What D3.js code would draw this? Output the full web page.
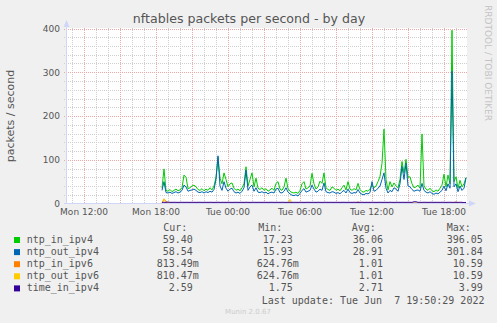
<!DOCTYPE html>
<html>
<head>
<meta charset="utf-8">
<script src="https://cdn.jsdelivr.net/npm/d3@7/dist/d3.min.js"></script>
<style>
  body { margin: 0; background: #f0f0f0; }
  svg text { white-space: pre; }
</style>
</head>
<body>
<div id="chart"></div>
<script>
// series names and colours (munin palette)
var seriesNames = ["ntp_in_ipv4", "ntp_out_ipv4", "ntp_in_ipv6", "ntp_out_ipv6", "time_in_ipv4"];
var seriesColors = ["#00cc00", "#0066b3", "#ff8000", "#ffcc00", "#330099"];

// legend numbers
var curVals = ["59.40", "58.54", "813.49m", "810.47m", "2.59"];
var minVals = ["17.23", "15.93", "624.76m", "624.76m", "1.75"];
var avgVals = ["36.06", "28.91", "1.01", "1.01", "2.71"];
var maxVals = ["396.05", "301.84", "10.59", "10.59", "3.99"];

var xTickLabels = ["Mon 12:00", "Mon 18:00", "Tue 00:00", "Tue 06:00", "Tue 12:00", "Tue 18:00"];
var yTicks = [0, 100, 200, 300, 400];

// samples every 10 minutes from Mon 18:30
var ntpInV4 = [35, 79, 30, 28, 32, 27, 30, 33, 29, 31, 36, 65, 60, 34, 36, 40, 42, 38, 32, 30,
  34, 29, 33, 30, 36, 31, 40, 60, 105, 58, 45, 70, 55, 38, 45, 47, 35, 30, 33, 29,
  36, 45, 84, 40, 55, 70, 38, 58, 35, 32, 36, 30, 34, 28, 31, 35, 30, 46, 50, 33,
  30, 38, 58, 34, 28, 25, 24, 26, 23, 30, 45, 50, 33, 36, 40, 69, 45, 33, 38, 51,
  46, 70, 36, 32, 30, 38, 35, 30, 33, 29, 36, 42, 31, 50, 33, 30, 34, 31, 46, 32,
  27, 26, 30, 28, 33, 42, 36, 40, 50, 62, 92, 170, 55, 31, 50, 38, 47, 40, 36, 55,
  96, 70, 101, 60, 61, 45, 36, 38, 42, 35, 159, 40, 33, 30, 35, 29, 27, 31, 28, 35,
  42, 67, 38, 65, 45, 396, 50, 61, 35, 53, 38, 45, 59.4];
var ntpOutV4 = [30, 50, 25, 24, 26, 23, 25, 27, 24, 26, 30, 42, 38, 28, 30, 31, 33, 30, 26, 25,
  27, 24, 27, 25, 28, 26, 32, 55, 109, 40, 30, 50, 35, 28, 33, 35, 27, 24, 26, 23,
  28, 36, 76, 30, 38, 42, 28, 36, 26, 25, 27, 24, 26, 22, 25, 26, 24, 33, 35, 25,
  24, 28, 36, 26, 22, 19, 18, 20, 17, 23, 30, 34, 26, 28, 30, 42, 33, 26, 28, 33,
  30, 47, 27, 25, 24, 27, 26, 23, 25, 22, 27, 30, 24, 33, 25, 23, 25, 24, 32, 24,
  21, 20, 23, 22, 25, 50, 28, 30, 35, 40, 55, 70, 35, 24, 30, 27, 36, 33, 28, 45,
  85, 55, 92, 40, 38, 32, 28, 30, 31, 28, 46, 30, 26, 24, 27, 23, 21, 24, 22, 26,
  30, 40, 29, 45, 35, 302, 38, 45, 27, 40, 30, 35, 58.54];
var ntpInV6 = [0.9, 10.59, 5, 2, 0.8, 0.8, 0.9, 0.8, 0.8, 0.9, 0.8, 0.8, 0.9, 0.8, 0.8, 0.9, 0.8, 0.8, 0.9, 0.8,
  0.8, 0.9, 0.8, 0.8, 0.9, 0.8, 0.8, 0.9, 0.8, 0.8, 0.9, 0.8, 0.8, 0.9, 0.8, 0.8, 0.9, 0.8, 0.8, 0.9,
  0.8, 0.8, 0.9, 0.8, 0.8, 0.9, 0.8, 0.8, 0.9, 0.8, 0.8, 0.9, 0.8, 0.8, 0.9, 0.8, 0.8, 0.9, 0.8, 0.8,
  0.9, 0.8, 0.8, 0.9, 2, 0.9, 0.8, 0.8, 0.9, 0.8, 0.8, 0.9, 0.8, 0.8, 0.9, 0.8, 0.8, 0.9, 0.8, 0.8,
  0.9, 0.8, 0.8, 0.9, 0.8, 0.8, 0.9, 0.8, 0.8, 0.9, 0.8, 0.8, 0.9, 0.8, 0.8, 0.9, 0.8, 0.8, 4, 0.9,
  0.8, 0.8, 0.9, 0.8, 0.8, 0.9, 0.8, 0.8, 0.9, 0.8, 0.8, 0.9, 0.8, 0.8, 0.9, 0.8, 0.8, 0.9, 0.8, 0.8,
  0.9, 0.8, 0.8, 0.9, 0.8, 0.8, 0.9, 0.8, 0.8, 0.9, 0.8, 0.8, 0.9, 0.8, 0.8, 0.9, 0.8, 0.8, 0.9, 0.8,
  0.8, 0.9, 0.8, 0.8, 0.9, 0.8, 0.8, 4, 0.9, 0.8, 0.8, 0.9, 0.81];
var ntpOutV6 = [0.9, 10.59, 3, 1.5, 0.8, 0.8, 0.9, 0.8, 0.8, 0.9, 0.8, 0.8, 0.9, 0.8, 0.8, 0.9, 0.8, 0.8, 0.9, 0.8,
  0.8, 0.9, 0.8, 0.8, 0.9, 0.8, 0.8, 0.9, 0.8, 0.8, 0.9, 0.8, 0.8, 0.9, 0.8, 0.8, 0.9, 0.8, 0.8, 0.9,
  0.8, 0.8, 0.9, 0.8, 0.8, 0.9, 0.8, 0.8, 0.9, 0.8, 0.8, 0.9, 0.8, 0.8, 0.9, 0.8, 0.8, 0.9, 0.8, 0.8,
  0.9, 0.8, 0.8, 0.9, 9.5, 0.9, 0.8, 0.8, 0.9, 0.8, 0.8, 0.9, 0.8, 0.8, 0.9, 0.8, 0.8, 0.9, 0.8, 0.8,
  0.9, 0.8, 0.8, 0.9, 0.8, 0.8, 0.9, 0.8, 0.8, 0.9, 0.8, 0.8, 0.9, 0.8, 0.8, 0.9, 0.8, 0.8, 2, 0.9,
  0.8, 0.8, 0.9, 0.8, 0.8, 0.9, 0.8, 0.8, 0.9, 0.8, 0.8, 0.9, 0.8, 0.8, 0.9, 0.8, 0.8, 0.9, 0.8, 0.8,
  0.9, 0.8, 0.8, 0.9, 0.8, 0.8, 0.9, 0.8, 0.8, 0.9, 0.8, 0.8, 0.9, 0.8, 0.8, 0.9, 0.8, 0.8, 0.9, 0.8,
  0.8, 0.9, 0.8, 0.8, 0.9, 0.8, 0.8, 3, 0.9, 0.8, 0.8, 0.9, 0.81];
var timeInV4 = [2.6, 2.8, 2.5, 3.3, 2.7, 2.6, 2.8, 2.7, 2.6, 2.7, 2.8, 2.6, 2.7, 2.7, 2.6, 2.8, 2.7, 2.6, 2.7, 2.8,
  2.6, 2.7, 2.7, 2.6, 2.8, 2.7, 2.6, 2.7, 2.8, 2.6, 2.7, 2.7, 2.6, 2.8, 2.7, 2.6, 2.7, 2.8, 2.6, 2.7,
  2.7, 2.6, 2.8, 2.7, 2.6, 2.7, 2.8, 2.6, 2.7, 2.7, 2.6, 2.8, 2.7, 2.6, 2.7, 2.8, 2.6, 2.7, 2.7, 2.6,
  2.8, 2.7, 2.6, 2.7, 2.8, 2.6, 2.7, 2.7, 2.6, 2.8, 2.7, 2.6, 2.7, 2.8, 2.6, 2.7, 2.7, 2.6, 2.8, 2.7,
  2.6, 2.7, 2.8, 2.6, 2.7, 2.7, 2.6, 2.8, 2.7, 2.6, 2.7, 2.8, 2.6, 2.7, 2.7, 2.6, 2.8, 2.7, 2.6, 2.7,
  2.8, 2.6, 2.7, 2.7, 2.6, 2.8, 2.7, 2.6, 2.7, 2.8, 2.6, 2.7, 2.7, 2.6, 2.8, 2.7, 2.6, 2.7, 2.8, 2.6,
  2.7, 2.7, 2.6, 2.8, 2.7, 2.6, 3.99, 3.9, 2.7, 2.7, 2.6, 2.8, 2.7, 2.6, 2.7, 2.8, 2.6, 2.7, 2.7, 2.6,
  2.8, 2.7, 2.6, 2.7, 2.8, 2.6, 2.7, 2.7, 2.6, 2.8, 2.7, 1.75, 2.59];

(function() {
  var width = 497, height = 323;
  var textColor = "#555555";

  var svg = d3.select("#chart")
    .append("svg")
    .attr("width", width)
    .attr("height", height)
    .style("display", "block")
    .style("background", "#f0f0f0");

  var x = d3.scaleTime()
    .domain([new Date(2022, 5, 6, 10, 35), new Date(2022, 5, 7, 19, 55)])
    .range([67, 467]);

  var y = d3.scaleLinear()
    .domain([0, 400])
    .range([203.5, 28.5]);

  // white canvas
  svg.append("rect")
    .attr("x", 67).attr("y", 28)
    .attr("width", 400).attr("height", 176)
    .attr("fill", "#ffffff");

  var crisp = function(v) { return Math.round(v) + 0.5; };
  var minorColor = "#cfcfcf", majorColor = "#eaa8a8";

  // minor grid every hour / every 20
  var hours = d3.timeHour.range(x.domain()[0], x.domain()[1]);
  svg.append("g").selectAll("line")
    .data(hours.filter(function(d) { return d.getHours() % 3 != 0; }))
    .enter().append("line")
    .attr("x1", function(d) { return crisp(x(d)); })
    .attr("x2", function(d) { return crisp(x(d)); })
    .attr("y1", 28).attr("y2", 204)
    .attr("stroke", minorColor)
    .attr("stroke-dasharray", "1,1");

  svg.append("g").selectAll("line")
    .data(d3.range(20, 400, 20).filter(function(d) { return d % 100 != 0; }))
    .enter().append("line")
    .attr("x1", 64).attr("x2", 467)
    .attr("y1", function(d) { return crisp(y(d)); })
    .attr("y2", function(d) { return crisp(y(d)); })
    .attr("stroke", minorColor)
    .attr("stroke-dasharray", "1,1");

  // major grid every 3 hours / every 100
  svg.append("g").selectAll("line")
    .data(hours.filter(function(d) { return d.getHours() % 3 == 0; }))
    .enter().append("line")
    .attr("x1", function(d) { return crisp(x(d)); })
    .attr("x2", function(d) { return crisp(x(d)); })
    .attr("y1", 28).attr("y2", 204)
    .attr("stroke", majorColor)
    .attr("stroke-dasharray", "1,1");

  svg.append("g").selectAll("line")
    .data(yTicks.slice(1))
    .enter().append("line")
    .attr("x1", 64).attr("x2", 467)
    .attr("y1", function(d) { return crisp(y(d)); })
    .attr("y2", function(d) { return crisp(y(d)); })
    .attr("stroke", majorColor)
    .attr("stroke-dasharray", "1,1");

  // y tick labels
  svg.append("g").selectAll("text")
    .data(yTicks)
    .enter().append("text")
    .attr("x", 60)
    .attr("y", function(d) { return y(d) + 3.3; })
    .attr("text-anchor", "end")
    .style("font-family", "DejaVu Sans")
    .style("font-size", "9px")
    .attr("fill", textColor)
    .text(function(d) { return d; });

  // x tick labels
  var labelTimes = d3.range(xTickLabels.length).map(function(i) {
    return new Date(2022, 5, 6, 12 + i * 6, 0);
  });
  svg.append("g").selectAll("text")
    .data(labelTimes)
    .enter().append("text")
    .attr("x", function(d) { return x(d); })
    .attr("y", 215)
    .attr("text-anchor", "middle")
    .style("font-family", "DejaVu Sans")
    .style("font-size", "9px")
    .attr("fill", textColor)
    .text(function(d, i) { return xTickLabels[i]; });

  // series lines
  var start = new Date(2022, 5, 6, 18, 30);
  var line = d3.line()
    .x(function(d, i) { return x(d3.timeMinute.offset(start, i * 10)); })
    .y(function(d) { return y(d); });

  var allSeries = [ntpInV4, ntpOutV4, ntpInV6, ntpOutV6, timeInV4];
  allSeries.forEach(function(s, k) {
    svg.append("path")
      .datum(s)
      .attr("d", line)
      .attr("fill", "none")
      .attr("stroke", seriesColors[k])
      .attr("stroke-width", 1);
  });

  // axes with arrows
  var axisColor = "#cfd6f8";
  svg.append("line")
    .attr("x1", 66.5).attr("x2", 66.5).attr("y1", 204).attr("y2", 24)
    .attr("stroke", axisColor);
  svg.append("line")
    .attr("x1", 64).attr("x2", 470).attr("y1", 203.5).attr("y2", 203.5)
    .attr("stroke", axisColor);
  svg.append("path")
    .attr("d", "M63.5,27 L66.5,20 L69.5,27 Z")
    .attr("fill", axisColor);
  svg.append("path")
    .attr("d", "M469,200.5 L476,203.5 L469,206.5 Z")
    .attr("fill", axisColor);

  // title and axis label
  svg.append("text")
    .attr("x", 249).attr("y", 23)
    .attr("text-anchor", "middle")
    .style("font-family", "DejaVu Sans")
    .style("font-size", "12.6px")
    .attr("fill", textColor)
    .text("nftables packets per second - by day");

  svg.append("text")
    .attr("transform", "translate(14,116) rotate(-90)")
    .attr("text-anchor", "middle")
    .style("font-family", "DejaVu Sans")
    .style("font-size", "11px")
    .attr("fill", textColor)
    .text("packets / second");

  svg.append("text")
    .attr("transform", "translate(485,5) rotate(90)")
    .attr("text-anchor", "start")
    .style("font-family", "DejaVu Sans")
    .style("font-size", "9px")
    .attr("fill", "#c4c4c4")
    .text("RRDTOOL / TOBI OETIKER");

  // legend
  var mono = "DejaVu Sans Mono";
  var fmt = function(v) {
    var suffix = " ";
    if (v.slice(-1) == "m") { suffix = "m"; v = v.slice(0, -1); }
    return v.padStart(6, " ") + suffix;
  };
  var headers = [["Cur:", 163.3], ["Min:", 258.3], ["Avg:", 351.7], ["Max:", 446.7]];
  svg.append("g").selectAll("text")
    .data(headers)
    .enter().append("text")
    .attr("x", function(d) { return d[1]; })
    .attr("y", 230.5)
    .style("font-family", mono)
    .style("font-size", "10px")
    .attr("fill", textColor)
    .text(function(d) { return d[0]; });

  var rows = svg.append("g").selectAll("g")
    .data(seriesNames)
    .enter().append("g")
    .attr("transform", function(d, i) { return "translate(0," + (242.7 + i * 12.1) + ")"; });

  rows.append("rect")
    .attr("x", 14).attr("y", -5.7)
    .attr("width", 6).attr("height", 6)
    .attr("fill", function(d, i) { return seriesColors[i]; });

  rows.append("text")
    .attr("x", 26.7)
    .style("font-family", mono)
    .style("font-size", "10px")
    .attr("fill", textColor)
    .text(function(d) { return d; });

  var cols = [[curVals, 156.7], [minVals, 256.7], [avgVals, 346.8], [maxVals, 446.7]];
  cols.forEach(function(c) {
    rows.append("text")
      .attr("x", c[1])
      .style("font-family", mono)
      .style("font-size", "10px")
      .attr("fill", textColor)
      .text(function(d, i) { return fmt(c[0][i]); });
  });

  svg.append("text")
    .attr("x", 261.7).attr("y", 304)
    .style("font-family", mono)
    .style("font-size", "10px")
    .attr("fill", textColor)
    .text("Last update: Tue Jun  7 19:50:29 2022");

  svg.append("text")
    .attr("x", 248).attr("y", 314)
    .attr("text-anchor", "middle")
    .style("font-family", "DejaVu Sans")
    .style("font-size", "7px")
    .attr("fill", "#cccccc")
    .text("Munin 2.0.67");
})();
</script>
</body>
</html>
